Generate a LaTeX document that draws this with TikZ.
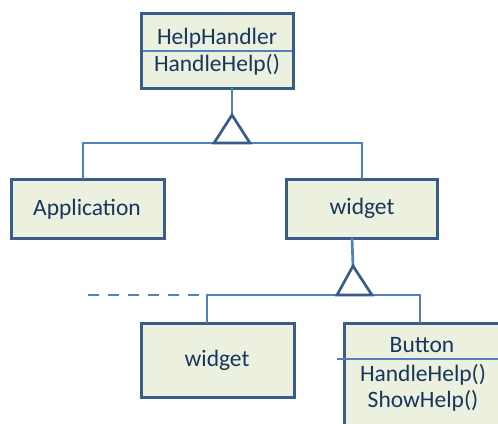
\documentclass[tikz,border=0pt]{standalone}
\usepackage{fontspec}
\setmainfont{Carlito}
\definecolor{boxfill}{RGB}{235,240,223}
\definecolor{boxline}{RGB}{56,93,138}
\definecolor{wire}{RGB}{79,129,189}
\definecolor{ink}{RGB}{23,54,93}
\begin{document}
\begin{tikzpicture}[x=1bp,y=-1bp,
  classbox/.style={draw=boxline,fill=boxfill,line width=3bp},
  wireline/.style={draw=wire,line width=2.7bp},
  divider/.style={draw=wire,line width=1.1bp},
  inherit/.style={draw=boxline,fill=white,line width=2.7bp,line join=miter},
  label/.style={text=ink,anchor=base,inner sep=0pt,font=\fontsize{23.5bp}{27bp}\selectfont}]
\useasboundingbox (0,0) rectangle (498,423);
\clip (0,0) rectangle (498,423);

% class boxes
\draw[classbox] (141,13) rectangle (293,88);
\draw[divider] (142.5,51) -- (291.5,51);
\draw[classbox] (11,179) rectangle (164,238);
\draw[classbox] (286,179) rectangle (437,238);
\draw[classbox] (141,323) rectangle (294,397);
\draw[classbox] (344,323) rectangle (520,440);
\draw[divider] (337,359) -- (498,359);

% named anchor points of the boxes
\coordinate (hhB) at (232,88);
\coordinate (appT) at (83,179);
\coordinate (wuT) at (362,179);
\coordinate (wuB) at (352,238);
\coordinate (wlT) at (207,323);
\coordinate (btT) at (420,323);

% generalisation: HelpHandler <- Application, widget
\coordinate (t1) at (232,115);
\coordinate (t1L) at (214,143);
\coordinate (t1R) at (250,143);
\draw[wireline] (hhB) -- (t1);
\draw[wireline] (appT) |- (t1L) -- (t1R) -| (wuT);
\draw[inherit] (t1) -- (t1L) -- (t1R) -- cycle;

% generalisation: widget <- widget, Button
\coordinate (t2) at (353,266);
\coordinate (t2L) at (337,295);
\coordinate (t2R) at (372,295);
\coordinate (dashL) at (88,295);
\coordinate (dashR) at (201,295);
\draw[wireline] (wuB) -- (t2);
\draw[wireline] (wlT) |- (t2L) -- (t2R) -| (btT);
\draw[wireline,dash pattern=on 11bp off 9bp] (dashL) -- (dashR);
\draw[inherit] (t2) -- (t2L) -- (t2R) -- cycle;

% texts
\node[label] (hhName) at (217,44) {HelpHandler};
\node[label] (hhOp) at (217,71) {HandleHelp()};
\node[label] (app) at (87,215) {Application};
\node[label] (wu) at (362,214) {widget};
\node[label] (wl) at (217,366) {widget};
\node[label] (btName) at (422,352) {Button};
\node[label] (btOp1) at (423,381) {HandleHelp()};
\node[label] (btOp2) at (423,407) {ShowHelp()};
\end{tikzpicture}
\end{document}
